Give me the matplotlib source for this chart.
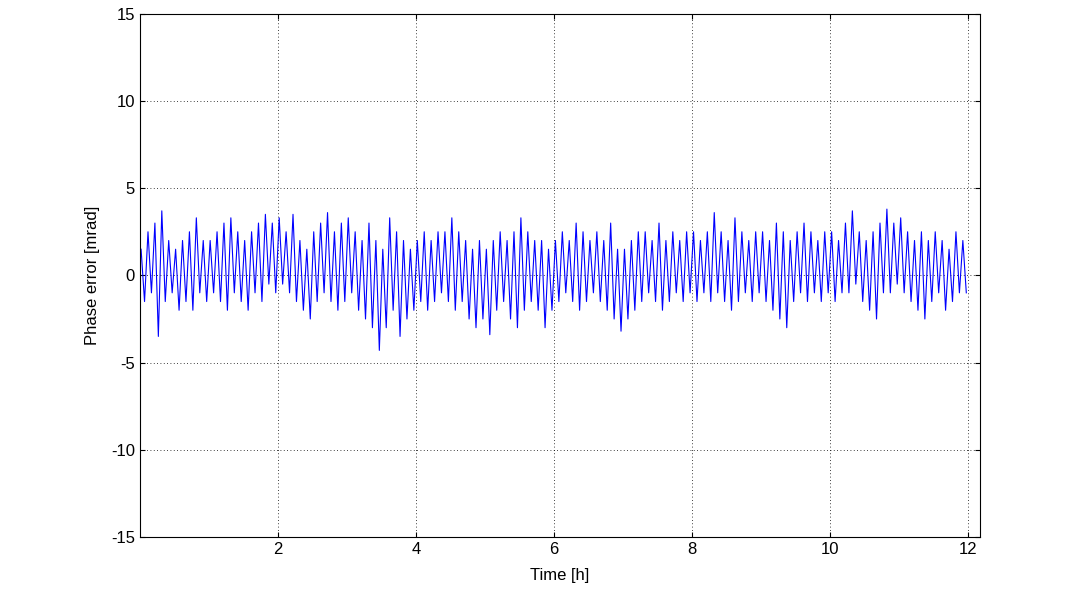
import numpy as np
import matplotlib
matplotlib.use("Agg")
import matplotlib.pyplot as plt

plt.rcParams["font.family"] = ["Liberation Sans", "DejaVu Sans"]
plt.rcParams["axes.unicode_minus"] = False

# per 0.1 h interval: local maximum and minimum of the phase error [mrad]
hi = [1.5, 2.5, 3.0, 3.7, 2.0, 1.5, 2.0, 2.5, 3.3, 2.0,
      2.0, 2.5, 3.0, 3.3, 2.5, 2.0, 2.5, 3.0, 3.5, 3.0,
      3.3, 2.5, 3.5, 2.0, 1.5, 2.5, 3.0, 3.6, 2.5, 3.0,
      3.3, 2.5, 2.0, 3.0, 2.0, 1.5, 3.3, 2.5, 2.0, 1.5,
      2.0, 2.5, 2.0, 2.5, 2.5, 3.3, 2.5, 2.0, 1.5, 2.0,
      1.5, 2.0, 2.5, 2.0, 2.5, 3.3, 2.5, 2.0, 2.0, 1.5,
      2.0, 2.5, 2.0, 3.0, 2.5, 2.0, 2.5, 2.0, 3.0, 1.5,
      1.5, 2.0, 2.5, 2.5, 2.0, 3.0, 2.0, 2.5, 2.0, 2.5,
      2.5, 2.0, 2.5, 3.6, 2.5, 2.0, 3.3, 2.5, 2.0, 2.5,
      2.5, 2.0, 3.0, 2.5, 2.0, 2.5, 3.0, 2.5, 2.0, 2.5,
      2.5, 2.0, 3.0, 3.7, 2.5, 2.0, 2.5, 3.0, 3.8, 3.0,
      3.3, 2.5, 2.0, 2.5, 2.0, 2.5, 2.0, 1.5, 2.5, 2.0]
lo = [-1.5, -1.0, -3.5, -1.5, -1.0, -2.0, -1.5, -2.0, -1.0, -1.5,
      -1.0, -1.5, -2.0, -1.0, -1.5, -2.0, -1.0, -1.5, -0.5, -1.0,
      -0.5, -1.0, -1.5, -2.0, -2.5, -1.5, -1.0, -1.5, -2.0, -1.5,
      -1.0, -2.0, -2.5, -3.0, -4.3, -3.0, -2.0, -3.5, -2.5, -2.0,
      -1.5, -2.0, -1.5, -1.0, -1.5, -2.0, -1.5, -2.5, -3.0, -2.5,
      -3.4, -2.0, -1.5, -2.5, -3.0, -2.0, -1.5, -2.0, -3.0, -2.0,
      -1.5, -1.0, -1.5, -2.0, -1.5, -1.0, -1.5, -2.0, -2.5, -3.2,
      -2.5, -2.0, -1.5, -1.0, -1.5, -2.0, -1.5, -1.0, -1.5, -1.0,
      -1.5, -1.0, -1.5, -1.0, -1.5, -2.0, -1.5, -1.0, -1.5, -1.0,
      -1.5, -2.0, -2.5, -3.0, -1.5, -1.0, -1.5, -1.0, -1.5, -1.0,
      -1.5, -1.0, -1.0, -0.5, -1.5, -2.0, -2.5, -1.0, -1.0, -0.5,
      -1.0, -1.5, -2.0, -2.5, -1.5, -1.0, -2.0, -1.5, -1.0, -1.0]
step = 0.1

t_start = np.arange(len(hi)) * step
t = np.column_stack([t_start + 0.02, t_start + 0.07]).ravel()
y = np.column_stack([hi, lo]).ravel()

fig = plt.figure(figsize=(10.83, 5.98), dpi=100)
ax = fig.add_axes([0.129, 0.102, 0.776, 0.875])
ax.plot(t, y, color="blue", linewidth=0.8)
ax.set_xlim(0, 12.17)
ax.set_ylim(-15, 15)
ax.set_xticks([2, 4, 6, 8, 10, 12])
ax.set_yticks([-15, -10, -5, 0, 5, 10, 15])
ax.tick_params(direction="in", labelsize=12, top=True, right=True)
ax.grid(True, linestyle=(0, (1, 3)), color="black", linewidth=0.6)
ax.set_xlabel("Time [h]", fontsize=12, labelpad=8)
ax.set_ylabel("Phase error [mrad]", fontsize=12, labelpad=8)
fig.savefig("out.png")
